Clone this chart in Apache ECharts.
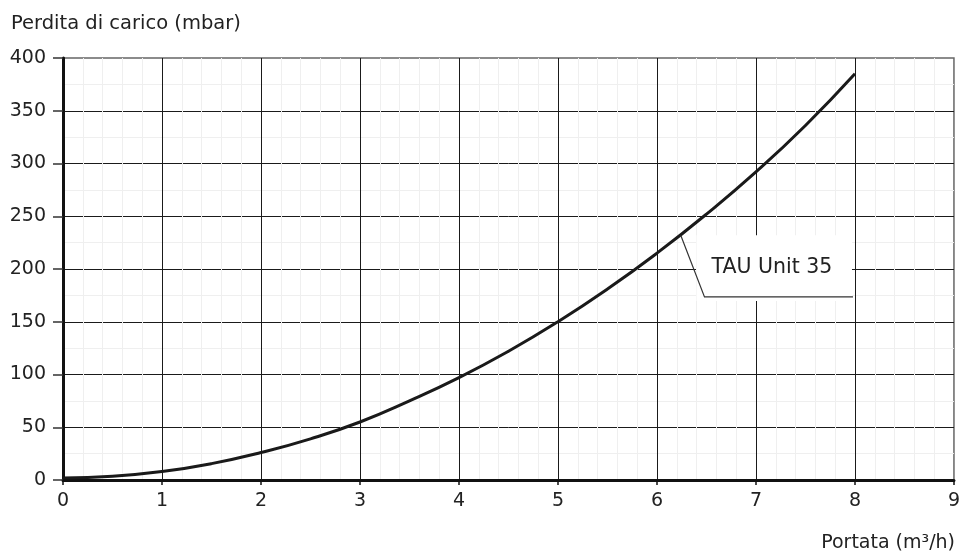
<!DOCTYPE html>
<html>
<head>
<meta charset="utf-8">
<script src="https://cdn.jsdelivr.net/npm/echarts@6/dist/echarts.min.js"></script>
<style>html,body{margin:0;padding:0;background:#fff}#c{width:963px;height:555px}</style>
</head>
<body>
<div id="c"></div>
<script>
const flowRate = [0, 0.5, 1, 1.5, 2, 2.5, 3, 3.5, 4, 4.5, 5, 5.5, 6, 6.5, 7, 7.5, 8];
const pressureDrop = [2, 3.5, 8, 15.5, 26, 39, 55, 75, 97, 122, 150, 181, 215, 252, 292, 336, 385];
const seriesName = 'TAU Unit 35';
const labelAnchor = [6.24, 232];
const labelElbow = [6.48, 173.5];
const labelEnd = [7.98, 173.5];
const yTitle = 'Perdita di carico (mbar)';
const xTitle = 'Portata (m³/h)';

const FONT = 'DejaVu Sans';
const chart = echarts.init(document.getElementById('c'));
const data = flowRate.map((x, i) => [x, pressureDrop[i]]);

chart.setOption({
  animation: false,
  textStyle: { fontFamily: FONT },
  title: [
    { text: yTitle, left: 6, top: 9, textStyle: { fontSize: 19.5, fontWeight: 'normal', color: '#222', fontFamily: FONT } },
    { text: xTitle, right: 3, top: 529, textStyle: { fontSize: 19, fontWeight: 'normal', color: '#222', fontFamily: FONT } }
  ],
  grid: { left: 63, right: 8, top: 58, bottom: 75, show: true, borderColor: '#666', borderWidth: 1.5 },
  xAxis: {
    type: 'value', min: 0, max: 9, interval: 1,
    axisLine: { lineStyle: { color: '#111', width: 3 } },
    axisTick: { length: 5, lineStyle: { color: '#111', width: 1.5 } },
    axisLabel: { fontSize: 19, color: '#222', margin: 12, fontFamily: FONT },
    splitLine: { show: true, showMaxLine: false, lineStyle: { color: '#1a1a1a', width: 1 } },
    minorTick: { show: false, splitNumber: 5 },
    minorSplitLine: { show: true, lineStyle: { color: '#efefef', width: 1 } }
  },
  yAxis: {
    type: 'value', min: 0, max: 400, interval: 50,
    axisLine: { show: true, lineStyle: { color: '#111', width: 3 } },
    axisTick: { show: true, length: 10, lineStyle: { color: '#333', width: 1.5 } },
    axisLabel: { fontSize: 19, color: '#222', margin: 17, fontFamily: FONT },
    splitLine: { show: true, showMaxLine: false, lineStyle: { color: '#1a1a1a', width: 1 } },
    minorTick: { show: false, splitNumber: 2 },
    minorSplitLine: { show: true, lineStyle: { color: '#efefef', width: 1 } }
  },
  series: [{
    type: 'line', name: seriesName, data: data, smooth: true, showSymbol: false,
    lineStyle: { color: '#1a1a1a', width: 3 }, z: 5
  }]
});

function px(p) { return chart.convertToPixel({ gridIndex: 0 }, p); }
const a = px(labelAnchor), b = px(labelElbow), e = px(labelEnd);
const boxTop = a[1];
chart.setOption({
  graphic: [
    { type: 'rect', z: 3, shape: { x: b[0] - 8, y: boxTop, width: e[0] - b[0] + 7, height: b[1] - boxTop + 4 }, style: { fill: '#fff' } },
    { type: 'polyline', z: 6, shape: { points: [a, b, e] }, style: { stroke: '#333', lineWidth: 1.2, fill: null } },
    { type: 'text', z: 6, x: b[0] + 7, y: (boxTop + b[1]) / 2 + 2, style: { text: seriesName, fontSize: 20.5, fill: '#222', fontFamily: FONT, verticalAlign: 'middle' } }
  ]
});
</script>
</body>
</html>
